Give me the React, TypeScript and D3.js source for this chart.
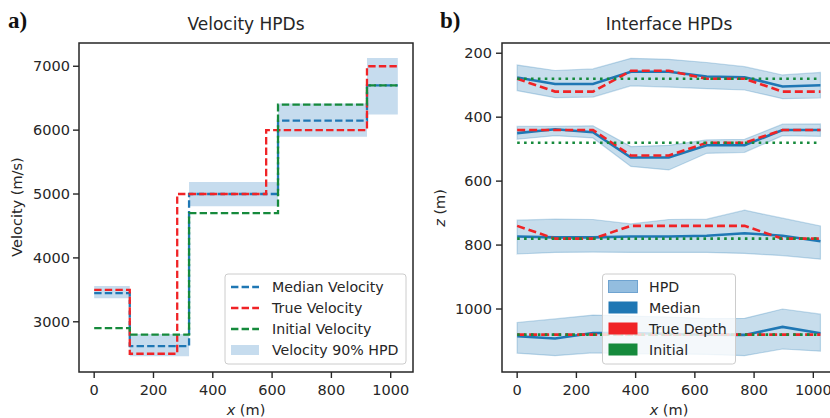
import React from 'react';
import * as d3 from 'd3';

// ---------- Panel a: velocity layers ----------
const xEnd = 1024;
const medTops = [0, 120, 320, 620, 920];
const velMedian = [3450, 2620, 5000, 6150, 6700];
const velHpdLow = [3370, 2460, 4810, 5895, 6245];
const velHpdHigh = [3560, 2810, 5190, 6417, 7131];
const trueTops = [0, 120, 280, 580, 920];
const velTrue = [3500, 2500, 5000, 6000, 7000];
const initTops = [0, 120, 320, 620, 920];
const velInitial = [2900, 2800, 4700, 6400, 6700];

const xTicks = [0, 200, 400, 600, 800, 1000];
const velTicks = [3000, 4000, 5000, 6000, 7000];
const depthTicks = [200, 400, 600, 800, 1000];

// ---------- Panel b: interfaces ----------
const ifaceX = [0, 128, 256, 384, 512, 640, 768, 896, 1024];
const depthMedian = [
  [276, 296, 296, 258, 258, 273, 275, 304, 300],
  [450, 438, 447, 526, 526, 488, 488, 440, 440],
  [773, 776, 776, 773, 773, 771, 763, 771, 788],
  [1085, 1092, 1075, 1075, 1078, 1080, 1081, 1056, 1076],
];
const depthTrue = [
  [280, 320, 320, 255, 255, 280, 280, 320, 320],
  [440, 440, 440, 520, 520, 480, 480, 440, 440],
  [740, 780, 780, 740, 740, 740, 740, 780, 780],
  [1080, 1080, 1080, 1080, 1080, 1080, 1080, 1080, 1080],
];
const depthHpdLow = [
  [237, 254, 249, 216, 219, 229, 242, 268, 260],
  [429, 429, 427, 492, 488, 471, 469, 422, 421],
  [722, 719, 720, 734, 720, 719, 691, 716, 740],
  [1042, 1031, 1019, 1022, 1025, 1030, 1029, 1000, 1016],
];
const depthHpdHigh = [
  [317, 339, 337, 302, 306, 311, 315, 342, 340],
  [469, 458, 465, 554, 565, 513, 510, 458, 460],
  [828, 823, 822, 823, 823, 823, 826, 833, 844],
  [1138, 1146, 1137, 1140, 1140, 1142, 1146, 1125, 1132],
];
const depthInitial = [280, 480, 780, 1080];

const legendA = ['Median Velocity', 'True Velocity', 'Initial Velocity', 'Velocity 90% HPD'];
const legendB = ['HPD', 'Median', 'True Depth', 'Initial'];

const BLUE = '#1f77b4';
const RED = '#f02326';
const GREEN = '#168a3c';
const BAND = '#c6dcee';
const TXT = '#262626';
const FONT = 'DejaVu Sans';

const xA = d3.scaleLinear().domain([-51.2, 1075.2]).range([79, 413]);
const yA = d3.scaleLinear().domain([2214, 7364]).range([372, 43]);
const xB = d3.scaleLinear().domain([-51.2, 1075.2]).range([502, 835.6]);
const yB = d3.scaleLinear().domain([168, 1197]).range([43, 372]);

function stepPts(tops: number[], vals: number[]): [number, number][] {
  const pts: [number, number][] = tops.map((t, i) => [t, vals[i]]);
  pts.push([xEnd, vals[vals.length - 1]]);
  return pts;
}

const stepLine = d3
  .line<[number, number]>()
  .x((d) => xA(d[0]))
  .y((d) => yA(d[1]))
  .curve(d3.curveStepAfter);

const bandA = d3
  .area<number>()
  .x((_, i) => xA(i < medTops.length ? medTops[i] : xEnd))
  .y0((_, i) => yA(velHpdLow[Math.min(i, velHpdLow.length - 1)]))
  .y1((_, i) => yA(velHpdHigh[Math.min(i, velHpdHigh.length - 1)]))
  .curve(d3.curveStepAfter);

const lineB = d3
  .line<number>()
  .x((_, i) => xB(ifaceX[i]))
  .y((d) => yB(d));

function bandB(k: number) {
  return d3
    .area<number>()
    .x((d) => xB(d))
    .y0((_, i) => yB(depthHpdLow[k][i]))
    .y1((_, i) => yB(depthHpdHigh[k][i]))(ifaceX) as string;
}

const tickStyle = { fontFamily: FONT, fontSize: 14.5, fill: TXT } as const;

export default function App() {
  const dash = '7.4 3.2';
  const bandIdx = [...medTops.map((_, i) => i), medTops.length];
  return (
    <svg
      width={830}
      height={418}
      style={{ position: 'fixed', left: 0, top: 0, background: '#fff' }}
      xmlns="http://www.w3.org/2000/svg"
    >
      <rect x={0} y={0} width={830} height={418} fill="#fff" />
      {/* ===== Panel labels ===== */}
      <text x={8} y={28} fontFamily="Liberation Serif" fontWeight="bold" fontSize={23} fill="#111">a)</text>
      <text x={440} y={28} fontFamily="Liberation Serif" fontWeight="bold" fontSize={23} fill="#111">b)</text>

      {/* ===== Panel a ===== */}
      <text x={246} y={30} textAnchor="middle" fontFamily={FONT} fontSize={17} fill={TXT}>Velocity HPDs</text>
      <path d={bandA(bandIdx) as string} fill={BAND} stroke="none" />
      <path d={stepLine(stepPts(medTops, velMedian)) as string} fill="none" stroke={BLUE} strokeWidth={2.3} strokeDasharray={dash} />
      <path d={stepLine(stepPts(trueTops, velTrue)) as string} fill="none" stroke={RED} strokeWidth={2.3} strokeDasharray={dash} />
      <path d={stepLine(stepPts(initTops, velInitial)) as string} fill="none" stroke={GREEN} strokeWidth={2.3} strokeDasharray={dash} />
      <rect x={79} y={43} width={334} height={329} fill="none" stroke={TXT} strokeWidth={1.5} />
      {xTicks.map((t) => (
        <g key={'xa' + t}>
          <line x1={xA(t)} x2={xA(t)} y1={372} y2={378} stroke={TXT} strokeWidth={1.4} />
          <text x={xA(t)} y={395} textAnchor="middle" {...tickStyle}>{t}</text>
        </g>
      ))}
      {velTicks.map((t) => (
        <g key={'ya' + t}>
          <line x1={73} x2={79} y1={yA(t)} y2={yA(t)} stroke={TXT} strokeWidth={1.4} />
          <text x={70} y={yA(t)} dy="0.36em" textAnchor="end" {...tickStyle}>{t}</text>
        </g>
      ))}
      <text x={246} y={415} textAnchor="middle" {...tickStyle}>
        <tspan fontStyle="italic">x</tspan> (m)
      </text>
      <text transform="translate(21.5,207) rotate(-90)" textAnchor="middle" {...tickStyle}>Velocity (m/s)</text>

      {/* Legend a */}
      <rect x={225} y={274} width={181} height={90} rx={3} fill="#fff" fillOpacity={0.8} stroke="#cccccc" strokeWidth={1} />
      {legendA.map((lab, i) => {
        const y = 287 + i * 21;
        const col = [BLUE, RED, GREEN][i];
        return (
          <g key={lab}>
            {i < 3 ? (
              <line x1={231} x2={259} y1={y} y2={y} stroke={col} strokeWidth={2.3} strokeDasharray={dash} />
            ) : (
              <rect x={231} y={y - 5} width={28} height={10} fill={BAND} />
            )}
            <text x={272} y={y} dy="0.36em" fontFamily={FONT} fontSize={14.2} fill={TXT}>{lab}</text>
          </g>
        );
      })}

      {/* ===== Panel b ===== */}
      <text x={669} y={30} textAnchor="middle" fontFamily={FONT} fontSize={17} fill={TXT}>Interface HPDs</text>
      {depthMedian.map((_, k) => (
        <g key={'band' + k}>
          <path d={bandB(k)} fill={BLUE} fillOpacity={0.25} stroke={BLUE} strokeOpacity={0.25} strokeWidth={1.2} />
        </g>
      ))}
      {depthMedian.map((m, k) => (
        <g key={'lines' + k}>
          <path d={lineB(m) as string} fill="none" stroke={BLUE} strokeWidth={2.6} />
          <path d={lineB(depthTrue[k]) as string} fill="none" stroke={RED} strokeWidth={2.6} strokeDasharray="8 4" />
          <line
            x1={xB(ifaceX[0])}
            x2={xB(ifaceX[ifaceX.length - 1])}
            y1={yB(depthInitial[k])}
            y2={yB(depthInitial[k])}
            stroke={GREEN}
            strokeWidth={2.6}
            strokeDasharray="2.6 4.3"
          />
        </g>
      ))}
      <rect x={502} y={43} width={340} height={329} fill="none" stroke={TXT} strokeWidth={1.5} />
      {xTicks.map((t) => (
        <g key={'xb' + t}>
          <line x1={xB(t)} x2={xB(t)} y1={372} y2={378} stroke={TXT} strokeWidth={1.4} />
          <text x={xB(t)} y={395} textAnchor="middle" {...tickStyle}>{t}</text>
        </g>
      ))}
      {depthTicks.map((t) => (
        <g key={'yb' + t}>
          <line x1={496} x2={502} y1={yB(t)} y2={yB(t)} stroke={TXT} strokeWidth={1.4} />
          <text x={492} y={yB(t)} dy="0.36em" textAnchor="end" {...tickStyle}>{t}</text>
        </g>
      ))}
      <text x={669} y={415} textAnchor="middle" {...tickStyle}>
        <tspan fontStyle="italic">x</tspan> (m)
      </text>
      <text transform="translate(445,208) rotate(-90)" textAnchor="middle" {...tickStyle}>
        <tspan fontStyle="italic">z</tspan> (m)
      </text>

      {/* Legend b */}
      <rect x={602.5} y={274} width={133} height={90} rx={3} fill="#fff" fillOpacity={0.8} stroke="#cccccc" strokeWidth={1} />
      {legendB.map((lab, i) => {
        const y = 286.5 + i * 21;
        const fill = ['#93bddf', BLUE, RED, GREEN][i];
        return (
          <g key={lab}>
            <rect
              x={608.5}
              y={y - 6}
              width={29}
              height={12}
              fill={fill}
              stroke={i === 0 ? '#6fa3d0' : 'none'}
              strokeWidth={1}
            />
            <text x={649} y={y} dy="0.36em" fontFamily={FONT} fontSize={14.2} fill={TXT}>{lab}</text>
          </g>
        );
      })}
    </svg>
  );
}
